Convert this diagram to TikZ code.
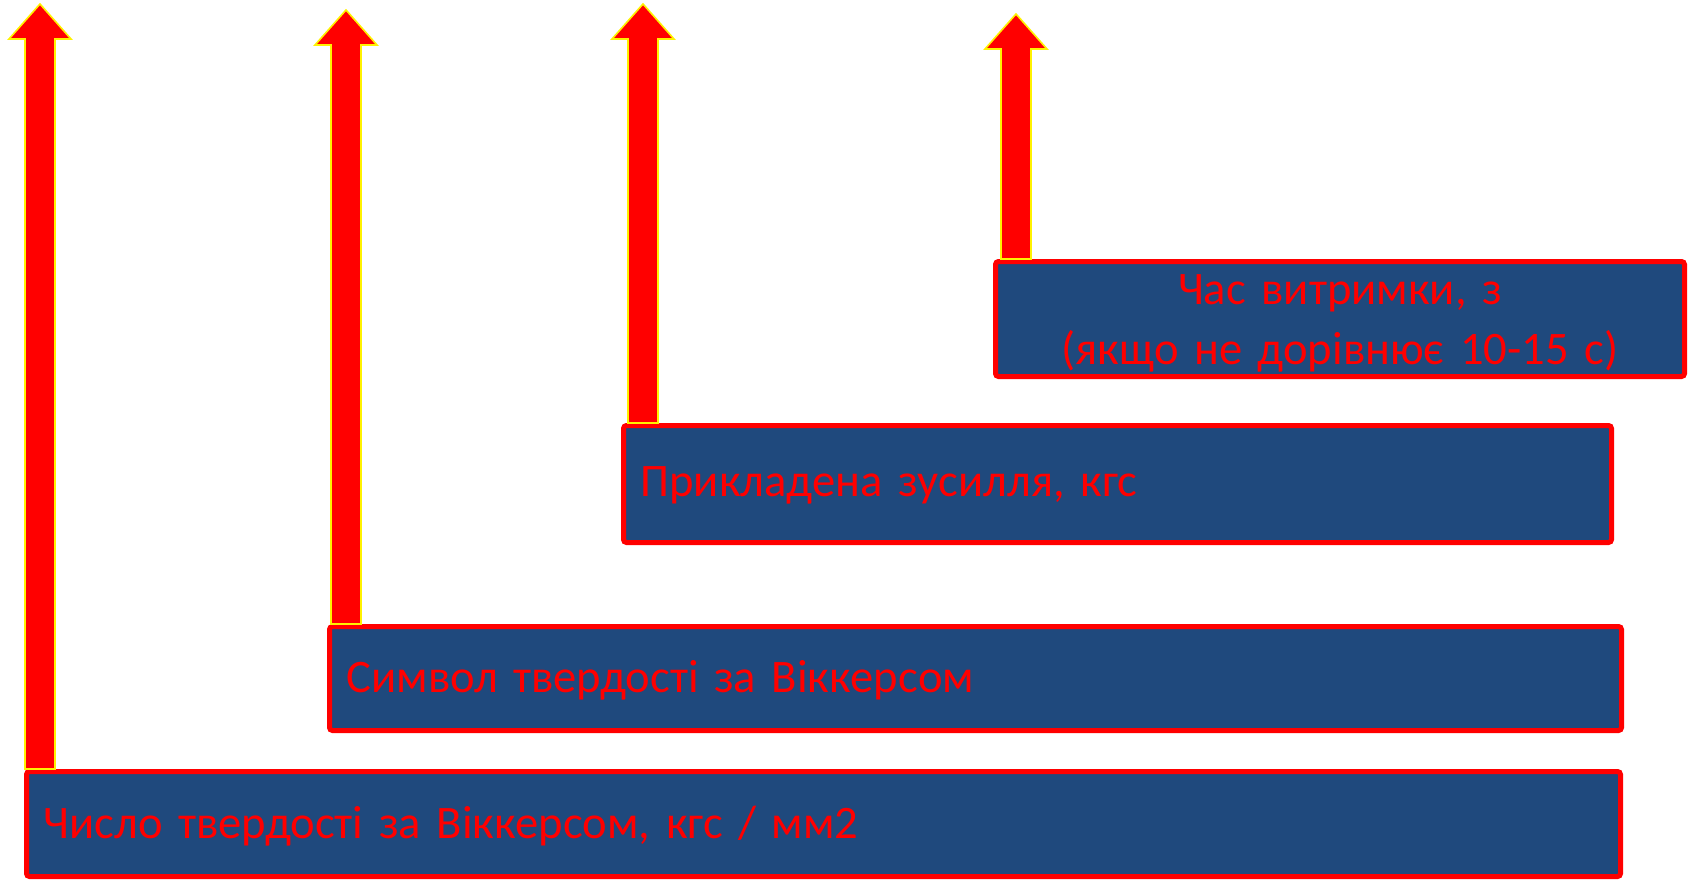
\documentclass[tikz,border=0pt]{standalone}
\usepackage{fontspec}
\setmainfont{Carlito}
\usetikzlibrary{calc}
\definecolor{boxblue}{HTML}{1F497D}
\tikzset{%
  infobox/.style  = {shape=rectangle, rounded corners=1.5pt,%
                     draw=red, line width=2.5pt, fill=boxblue,%
                     text=red, anchor=north west, inner xsep=8.5pt,%
                     text depth=2pt,%
                     font=\fontsize{23.3}{30}\selectfont},%
  fatarrow/.style = {draw=yellow, fill=red, line width=0.8pt,%
                     to path={let \p1=(\tikztostart), \p2=(\tikztotarget) in
                       (\x1-7.5pt,\y1) -- (\x1-7.5pt,\y2-17.5pt)
                       -- (\x1-15.5pt,\y2-17.5pt) -- (\x2,\y2)
                       -- (\x1+15.5pt,\y2-17.5pt) -- (\x1+7.5pt,\y2-17.5pt)
                       -- (\x1+7.5pt,\y1) -- cycle}}%
}
\begin{document}
\begin{tikzpicture}[x=0.5pt, y=-0.5pt]
  \useasboundingbox (0,0) rectangle (1692,879);
  % arrow tips
  \coordinate (tip1) at (40,4);
  \coordinate (tip2) at (346,10);
  \coordinate (tip3) at (643,4);
  \coordinate (tip4) at (1016,14);
  % boxes, from the bottom up
  \node[infobox, minimum width=797pt, minimum height=52.5pt,
        text width=780pt, align=left] (b1) at (24,769)
        {Число твердості за Віккерсом, кгс / мм2};
  \node[infobox, minimum width=646pt, minimum height=52pt,
        text width=629pt, align=left] (b2) at (327,624)
        {Символ твердості за Віккерсом};
  \node[infobox, minimum width=494pt, minimum height=58.5pt,
        text width=477pt, align=left] (b3) at (621,423)
        {Прикладена зусилля, кгс};
  \node[infobox, minimum width=344.5pt, minimum height=57.5pt,
        text width=327.5pt, text depth=29pt, align=center] (b4) at (993,259)
        {Час витримки, з\\(якщо не дорівнює 10-15 с)};
  % arrows rise from the boxes
  \draw[fatarrow] (b1.north -| tip1) to (tip1);
  \draw[fatarrow] (b2.north -| tip2) to (tip2);
  \draw[fatarrow] (b3.north -| tip3) to (tip3);
  \draw[fatarrow] (b4.north -| tip4) to (tip4);
\end{tikzpicture}
\end{document}
